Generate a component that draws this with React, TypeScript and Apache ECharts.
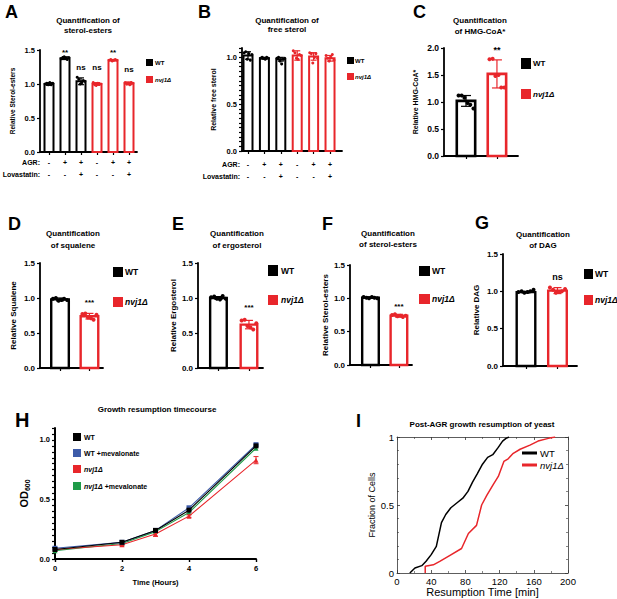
import React, { useEffect, useRef } from 'react';
import * as echarts from 'echarts';

const FONT = '"Liberation Sans", Arial, Helvetica, sans-serif';
const BLK = '#000000';
const RED = '#e8262b';
const BLUE = '#3d5ba9';
const GREEN = '#1f9b48';

// ---------- Panel A: sterol-esters ----------
const aAgr = ['-', '+', '+', '-', '+', '+'];
const aLova = ['-', '-', '+', '-', '-', '+'];
const aMeans = [1.0, 1.38, 1.04, 1.0, 1.35, 1.01];
const aErrs = [0.02, 0.02, 0.05, 0.02, 0.01, 0.02];
const aDots = [
  [1.0, 1.01, 0.99, 1.02, 0.99, 1.01],
  [1.37, 1.39, 1.4, 1.38, 1.36, 1.39],
  [1.1, 1.07, 1.0, 1.02, 1.05, 1.04],
  [1.02, 0.99, 0.98, 1.01, 1.0, 1.0],
  [1.35, 1.36, 1.34, 1.35, 1.36, 1.35],
  [1.02, 1.0, 1.01, 0.99, 1.02, 1.01],
];
const aSig = ['', '**', 'ns', 'ns', '**', 'ns'];
const aSigY = [0, 1.47, 1.25, 1.25, 1.47, 1.21];

// ---------- Panel B: free sterol ----------
const bAgr = ['-', '+', '+', '-', '+', '+'];
const bLova = ['-', '-', '+', '-', '-', '+'];
const bMeans = [1.02, 0.99, 0.98, 1.02, 1.01, 0.99];
const bErrs = [0.04, 0.01, 0.02, 0.05, 0.04, 0.03];
const bDots = [
  [1.05, 1.06, 0.98, 1.04, 0.97, 1.03],
  [0.99, 1.0, 0.99, 0.98, 1.0, 0.99],
  [0.99, 1.0, 0.96, 0.93, 0.98, 0.99],
  [1.07, 1.05, 0.99, 0.98, 1.03, 1.02],
  [1.05, 1.04, 0.94, 1.0, 1.04, 0.99],
  [1.02, 0.99, 0.96, 1.0, 1.03, 0.97],
];
const bSig = ['', 'ns', 'ns', 'ns', 'ns', 'ns'];
const bSigY = [0, 1.11, 1.11, 1.17, 1.17, 1.11];

// ---------- Panel C: HMG-CoA ----------
const cMeans = [1.02, 1.52];
const cErrs = [0.1, 0.26];
const cDots = [
  [1.12, 1.12, 1.08, 0.98, 0.95, 0.88],
  [1.79, 1.8, 1.48, 1.5, 1.27, 1.27],
];
const cSig = ['', '**'];
const cSigY = [0, 1.96];

// ---------- Panel D: squalene ----------
const dMeans = [0.98, 0.74];
const dErrs = [0.02, 0.04];
const dDots = [
  [0.99, 1.0, 0.96, 0.97, 0.99, 0.97],
  [0.77, 0.78, 0.72, 0.71, 0.69, 0.76],
];
const dSig = ['', '***'];
const dSigY = [0, 0.94];

// ---------- Panel E: ergosterol ----------
const eMeans = [1.0, 0.62];
const eErrs = [0.02, 0.06];
const eDots = [
  [1.01, 1.02, 0.99, 0.98, 1.03, 0.99],
  [0.68, 0.69, 0.6, 0.58, 0.55, 0.64],
];
const eSig = ['', '***'];
const eSigY = [0, 0.86];

// ---------- Panel F: sterol-esters ----------
const fMeans = [1.01, 0.74];
const fErrs = [0.01, 0.02];
const fDots = [
  [1.02, 1.01, 1.0, 1.02, 1.01, 1.0],
  [0.75, 0.76, 0.73, 0.74, 0.72, 0.74],
];
const fSig = ['', '***'];
const fSigY = [0, 0.885];

// ---------- Panel G: DAG ----------
const gMeans = [0.99, 1.01];
const gErrs = [0.01, 0.04];
const gDots = [
  [0.99, 1.0, 0.98, 0.99, 1.0, 1.02],
  [1.05, 1.02, 0.98, 0.99, 1.0, 1.03],
];
const gSig = ['', 'ns'];
const gSigY = [0, 1.19];

// ---------- Panel H: growth timecourse ----------
const hTime = [0, 2, 3, 4, 6];
const hWT = [0.08, 0.14, 0.24, 0.41, 0.95];
const hWTMev = [0.09, 0.14, 0.24, 0.43, 0.96];
const hNvj = [0.08, 0.12, 0.21, 0.36, 0.83];
const hNvjErr = [0.005, 0.01, 0.02, 0.01, 0.03];
const hNvjMev = [0.07, 0.13, 0.23, 0.39, 0.93];

// ---------- Panel I: resumption CDF ----------
const iWT: [number, number][] = [
  [15, 0], [21, 0.037], [29, 0.054], [34, 0.086], [40, 0.135], [46, 0.196],
  [52, 0.37], [57, 0.43], [63, 0.48], [71, 0.52], [77, 0.55], [83, 0.6],
  [88.5, 0.67], [94, 0.73], [100, 0.8], [106, 0.85], [112, 0.87], [118, 0.92],
  [123.5, 0.97], [127.5, 0.99], [131, 1.0],
];
const iNvj: [number, number][] = [
  [33, 0], [33, 0.05], [42.5, 0.06], [50, 0.085], [62, 0.13], [75.5, 0.18],
  [83.5, 0.29], [93, 0.35], [99, 0.5], [105, 0.57], [112.5, 0.65], [118.5, 0.71],
  [125, 0.82], [130, 0.84], [136, 0.88], [144, 0.91], [155.5, 0.94], [165, 0.97],
  [177, 0.99], [185, 1.0],
];

const DOT_OFF = [-0.24, -0.14, -0.05, 0.05, 0.14, 0.24];

interface BarPanel {
  left: number; top: number; width: number; height: number;
  xMin: number; xMax: number; yMax: number; yInterval: number;
  means: number[]; errs: number[]; dots: number[][]; colors: string[];
  sig: string[]; sigY: number[]; sigSize: number;
  yName: string; yNameSize: number; yNameGap: number; tickSize: number;
  barW: number; barLW: number; dotSize: number; cap: number;
  xLabels?: string[]; xLabelMargin?: number;
}

function addBarPanel(p: BarPanel, grid: any[], xAxis: any[], yAxis: any[], series: any[]) {
  const g = grid.length;
  grid.push({ left: p.left, top: p.top, width: p.width, height: p.height });
  const idx = p.means.map((_, i) => i);
  const xi = xAxis.length;
  xAxis.push({
    type: 'value', gridIndex: g, min: p.xMin, max: p.xMax,
    axisLine: { show: true, onZero: false, lineStyle: { color: '#000', width: 1.8 } },
    axisTick: { show: true, customValues: idx, length: 3, lineStyle: { color: '#000', width: 1.2 } },
    axisLabel: p.xLabels
      ? {
          show: true, customValues: idx,
          formatter: (v: number) => p.xLabels![Math.round(v)] ?? '',
          fontSize: 7, fontWeight: 'bold', fontFamily: FONT, color: '#000', lineHeight: 12,
          margin: p.xLabelMargin,
        }
      : { show: false },
    splitLine: { show: false },
  });
  const yi = yAxis.length;
  yAxis.push({
    type: 'value', gridIndex: g, min: 0, max: p.yMax, interval: p.yInterval,
    axisLine: { show: true, onZero: false, lineStyle: { color: '#000', width: 1.8 } },
    axisTick: { show: true, length: 3, lineStyle: { color: '#000', width: 1.2 } },
    axisLabel: {
      fontSize: p.tickSize, fontWeight: 'bold', fontFamily: FONT, color: '#000', margin: 5,
      formatter: (v: number) => (Math.abs(v * 2 - Math.round(v * 2)) < 1e-6 ? v.toFixed(1) : ''),
    },
    splitLine: { show: false },
    name: p.yName, nameLocation: 'middle', nameGap: p.yNameGap,
    nameTextStyle: { fontSize: p.yNameSize, fontWeight: 'bold', fontFamily: FONT, color: '#000' },
  });
  series.push({
    type: 'custom', xAxisIndex: xi, yAxisIndex: yi, z: 2, silent: true, clip: false,
    data: idx.map((i) => [i, p.means[i], p.errs[i]]),
    renderItem: (params: any, api: any) => {
      const i = params.dataIndex;
      const x = api.value(0), m = api.value(1), e = api.value(2);
      const top = api.coord([x, m]);
      const base = api.coord([x, 0]);
      const lo = api.coord([x, m - e]);
      const hi = api.coord([x, m + e]);
      const col = p.colors[i];
      const w = p.barW - p.barLW;
      const el = { stroke: col, lineWidth: 1.2 };
      return {
        type: 'group',
        children: [
          { type: 'rect', shape: { x: top[0] - w / 2, y: top[1], width: w, height: base[1] - top[1] }, style: { fill: '#fff', stroke: col, lineWidth: p.barLW } },
          { type: 'line', shape: { x1: lo[0], y1: lo[1], x2: hi[0], y2: hi[1] }, style: el },
          { type: 'line', shape: { x1: hi[0] - p.cap, y1: hi[1], x2: hi[0] + p.cap, y2: hi[1] }, style: el },
          { type: 'line', shape: { x1: lo[0] - p.cap, y1: lo[1], x2: lo[0] + p.cap, y2: lo[1] }, style: el },
        ],
      };
    },
  });
  series.push({
    type: 'scatter', xAxisIndex: xi, yAxisIndex: yi, z: 4, silent: true,
    symbolSize: p.dotSize,
    data: p.dots.flatMap((arr, i) => arr.map((v, k) => ({ value: [i + DOT_OFF[k], v], itemStyle: { color: p.colors[i], opacity: 1 } }))),
  });
  series.push({
    type: 'scatter', xAxisIndex: xi, yAxisIndex: yi, z: 5, silent: true,
    symbolSize: 0,
    data: p.sig.map((s, i) => (s ? { name: s, value: [i, p.sigY[i]] } : null)).filter(Boolean),
    label: { show: true, position: 'inside', formatter: '{b}', color: '#000', opacity: 1, fontSize: p.sigSize, fontWeight: 'bold', fontFamily: FONT },
    itemStyle: { opacity: 1 },
  });
}

const txt = (text: string, x: number, y: number, size: number, o: any = {}) => ({
  type: 'text', x, y, silent: true, z: 10,
  style: {
    text, fill: '#000', fontSize: size, fontFamily: FONT,
    fontWeight: o.weight ?? 'bold', fontStyle: o.italic ? 'italic' : 'normal',
    align: o.align ?? 'left', verticalAlign: 'middle',
    textAlign: o.align ?? 'left', textVerticalAlign: 'middle',
    rich: o.rich,
  },
});
const box = (x: number, y: number, w: number, h: number, fill: string) => ({
  type: 'rect', silent: true, z: 10, shape: { x, y, width: w, height: h }, style: { fill },
});
const seg = (x1: number, y1: number, x2: number, y2: number, stroke: string, lw: number) => ({
  type: 'line', silent: true, z: 10, shape: { x1, y1, x2, y2 }, style: { stroke, lineWidth: lw },
});

function buildOption() {
  const grid: any[] = [];
  const xAxis: any[] = [];
  const yAxis: any[] = [];
  const series: any[] = [];
  const six = [BLK, BLK, BLK, RED, RED, RED];
  const two = [BLK, RED];

  addBarPanel({
    left: 40, top: 50, width: 97, height: 102, xMin: -0.5625, xMax: 5.5, yMax: 1.5, yInterval: 0.5,
    means: aMeans, errs: aErrs, dots: aDots, colors: six, sig: aSig, sigY: aSigY, sigSize: 8,
    yName: 'Relative Sterol-esters', yNameSize: 6.5, yNameGap: 24, tickSize: 7.5,
    barW: 11, barLW: 2, dotSize: 3, cap: 3,
    xLabels: aAgr.map((a, i) => `${a}\n${aLova[i]}`), xLabelMargin: 4,
  }, grid, xAxis, yAxis, series);

  addBarPanel({
    left: 242, top: 48, width: 100, height: 103, xMin: -0.366, xMax: 5.73, yMax: 1.1, yInterval: 0.05,
    means: bMeans, errs: bErrs, dots: bDots, colors: six, sig: bSig, sigY: bSigY, sigSize: 8,
    yName: 'Relative free sterol', yNameSize: 7, yNameGap: 25, tickSize: 7.5,
    barW: 11, barLW: 2, dotSize: 3, cap: 3,
    xLabels: bAgr.map((a, i) => `${a}\n${bLova[i]}`), xLabelMargin: 7,
  }, grid, xAxis, yAxis, series);

  addBarPanel({
    left: 444, top: 48, width: 74, height: 108, xMin: -0.71, xMax: 1.68, yMax: 2.0, yInterval: 0.5,
    means: cMeans, errs: cErrs, dots: cDots, colors: two, sig: cSig, sigY: cSigY, sigSize: 9,
    yName: 'Relative HMG-CoA*', yNameSize: 7, yNameGap: 25, tickSize: 8.5,
    barW: 21, barLW: 2.6, dotSize: 4, cap: 5,
  }, grid, xAxis, yAxis, series);

  addBarPanel({
    left: 40, top: 263, width: 63, height: 105, xMin: -0.68, xMax: 1.46, yMax: 1.5, yInterval: 0.5,
    means: dMeans, errs: dErrs, dots: dDots, colors: two, sig: dSig, sigY: dSigY, sigSize: 8,
    yName: 'Relative Squalene', yNameSize: 8, yNameGap: 23, tickSize: 8,
    barW: 20, barLW: 2.4, dotSize: 4, cap: 4,
  }, grid, xAxis, yAxis, series);

  addBarPanel({
    left: 198, top: 263, width: 65, height: 105, xMin: -0.67, xMax: 1.46, yMax: 1.5, yInterval: 0.5,
    means: eMeans, errs: eErrs, dots: eDots, colors: two, sig: eSig, sigY: eSigY, sigSize: 8,
    yName: 'Relative Ergosterol', yNameSize: 8, yNameGap: 14, tickSize: 8,
    barW: 19, barLW: 2.4, dotSize: 4, cap: 4,
  }, grid, xAxis, yAxis, series);

  addBarPanel({
    left: 350, top: 265, width: 62, height: 100, xMin: -0.72, xMax: 1.46, yMax: 1.5, yInterval: 0.5,
    means: fMeans, errs: fErrs, dots: fDots, colors: two, sig: fSig, sigY: fSigY, sigSize: 8,
    yName: 'Relative Sterol-esters', yNameSize: 8, yNameGap: 21, tickSize: 8,
    barW: 19, barLW: 2.4, dotSize: 4, cap: 4,
  }, grid, xAxis, yAxis, series);

  addBarPanel({
    left: 503, top: 254, width: 74, height: 112, xMin: -0.73, xMax: 1.62, yMax: 1.5, yInterval: 0.5,
    means: gMeans, errs: gErrs, dots: gDots, colors: two, sig: gSig, sigY: gSigY, sigSize: 9,
    yName: 'Relative DAG', yNameSize: 8, yNameGap: 23, tickSize: 8,
    barW: 21, barLW: 2.4, dotSize: 4, cap: 4,
  }, grid, xAxis, yAxis, series);

  // ---- Panel H ----
  const hg = grid.length;
  grid.push({ left: 55, top: 428, width: 201, height: 131 });
  const hxi = xAxis.length;
  xAxis.push({
    type: 'value', gridIndex: hg, min: 0, max: 6, interval: 2,
    axisLine: { show: true, onZero: false, lineStyle: { color: '#000', width: 2 } },
    axisTick: { show: true, length: 3, lineStyle: { color: '#000', width: 1.4 } },
    axisLabel: { fontSize: 7.5, fontWeight: 'bold', fontFamily: FONT, color: '#000', margin: 5 },
    splitLine: { show: false },
    name: 'Time (Hours)', nameLocation: 'middle', nameGap: 19,
    nameTextStyle: { fontSize: 7.5, fontWeight: 'bold', fontFamily: FONT, color: '#000' },
  });
  const hyi = yAxis.length;
  yAxis.push({
    type: 'value', gridIndex: hg, min: 0, max: 1.1, interval: 0.05,
    axisLine: { show: true, onZero: false, lineStyle: { color: '#000', width: 2 } },
    axisTick: { show: true, length: 3, lineStyle: { color: '#000', width: 1.2 } },
    axisLabel: {
      fontSize: 7.5, fontWeight: 'bold', fontFamily: FONT, color: '#000', margin: 5,
      formatter: (v: number) => (Math.abs(v * 2 - Math.round(v * 2)) < 1e-6 ? v.toFixed(1) : ''),
    },
    splitLine: { show: false },
    name: '{a|OD}{b|600}', nameLocation: 'middle', nameGap: 24,
    nameTextStyle: {
      rich: {
        a: { fontSize: 11, fontWeight: 'bold', fontFamily: FONT, color: '#000', lineHeight: 14 },
        b: { fontSize: 7, fontWeight: 'bold', fontFamily: FONT, color: '#000', lineHeight: 14, verticalAlign: 'bottom' },
      },
    },
  });
  const zip = (xs: number[], ys: number[]) => xs.map((x, i) => [x, ys[i]]);
  const hLine = (data: number[][], color: string, symbol: string, z: number) => ({
    type: 'line', xAxisIndex: hxi, yAxisIndex: hyi, data, symbol, symbolSize: 5, z,
    lineStyle: { color, width: 1.1 }, itemStyle: { color }, silent: true,
  });
  series.push(hLine(zip(hTime, hNvjMev), GREEN, 'triangle', 3));
  series.push(hLine(zip(hTime, hNvj), RED, 'triangle', 4));
  series.push({
    type: 'custom', xAxisIndex: hxi, yAxisIndex: hyi, z: 4, silent: true,
    data: hTime.map((t, i) => [t, hNvj[i], hNvjErr[i]]),
    renderItem: (_p: any, api: any) => {
      const x = api.value(0), m = api.value(1), e = api.value(2);
      const lo = api.coord([x, m - e]);
      const hi = api.coord([x, m + e]);
      const st = { stroke: RED, lineWidth: 1 };
      return {
        type: 'group',
        children: [
          { type: 'line', shape: { x1: lo[0], y1: lo[1], x2: hi[0], y2: hi[1] }, style: st },
          { type: 'line', shape: { x1: lo[0] - 2.5, y1: lo[1], x2: lo[0] + 2.5, y2: lo[1] }, style: st },
          { type: 'line', shape: { x1: hi[0] - 2.5, y1: hi[1], x2: hi[0] + 2.5, y2: hi[1] }, style: st },
        ],
      };
    },
  });
  series.push(hLine(zip(hTime, hWTMev), BLUE, 'rect', 5));
  series.push(hLine(zip(hTime, hWT), BLK, 'rect', 6));

  // ---- Panel I ----
  const ig = grid.length;
  grid.push({ left: 397, top: 437, width: 171, height: 136 });
  const axC = '#333';
  const ixi = xAxis.length;
  xAxis.push({
    type: 'value', gridIndex: ig, min: 0, max: 200, interval: 40,
    axisLine: { show: true, onZero: false, lineStyle: { color: axC, width: 0.8 } },
    axisTick: { show: true, inside: true, length: 3, lineStyle: { color: axC, width: 0.8 } },
    minorTick: { show: true, splitNumber: 2, length: 2, lineStyle: { color: axC, width: 0.6 } },
    axisLabel: { fontSize: 9.5, fontFamily: FONT, color: '#000', margin: 3 },
    splitLine: { show: false },
    name: 'Resumption Time [min]', nameLocation: 'middle', nameGap: 13,
    nameTextStyle: { fontSize: 11, fontFamily: FONT, color: '#000' },
  });
  xAxis.push({
    type: 'value', gridIndex: ig, position: 'top', min: 0, max: 200, interval: 40,
    axisLine: { show: true, onZero: false, lineStyle: { color: axC, width: 0.8 } },
    axisTick: { show: true, inside: true, length: 3, lineStyle: { color: axC, width: 0.8 } },
    minorTick: { show: true, splitNumber: 2, length: 2, lineStyle: { color: axC, width: 0.6 } },
    axisLabel: { show: false }, splitLine: { show: false },
  });
  const iyi = yAxis.length;
  yAxis.push({
    type: 'value', gridIndex: ig, min: 0, max: 1, interval: 0.5,
    axisLine: { show: true, onZero: false, lineStyle: { color: axC, width: 0.8 } },
    axisTick: { show: true, inside: true, length: 3, lineStyle: { color: axC, width: 0.8 } },
    minorTick: { show: true, splitNumber: 5, length: 2, lineStyle: { color: axC, width: 0.6 } },
    axisLabel: { fontSize: 9.5, fontFamily: FONT, color: '#000', margin: 3 },
    splitLine: { show: false },
    name: 'Fraction of Cells', nameLocation: 'middle', nameGap: 15,
    nameTextStyle: { fontSize: 9, fontFamily: FONT, color: '#000' },
  });
  yAxis.push({
    type: 'value', gridIndex: ig, position: 'right', min: 0, max: 1, interval: 0.5,
    axisLine: { show: true, onZero: false, lineStyle: { color: axC, width: 0.8 } },
    axisTick: { show: true, inside: true, length: 3, lineStyle: { color: axC, width: 0.8 } },
    minorTick: { show: true, splitNumber: 5, length: 2, lineStyle: { color: axC, width: 0.6 } },
    axisLabel: { show: false }, splitLine: { show: false },
  });
  series.push({
    type: 'line', xAxisIndex: ixi, yAxisIndex: iyi, data: iWT, symbol: 'none', z: 5, silent: true,
    lineStyle: { color: BLK, width: 1.5 },
  });
  series.push({
    type: 'line', xAxisIndex: ixi, yAxisIndex: iyi, data: iNvj, symbol: 'none', z: 5, silent: true,
    lineStyle: { color: RED, width: 1.5 },
  });

  const graphic: any[] = [
    // panel letters
    txt('A', 5, 11.5, 18), txt('B', 198, 11.5, 18), txt('C', 413, 11.5, 18),
    txt('D', 8, 223.5, 18), txt('E', 172, 223.5, 18), txt('F', 322, 224, 18),
    txt('G', 475, 223, 18), txt('H', 15, 420, 20), txt('I', 356, 421, 18),
    // titles
    txt('Quantification of', 88, 20, 8, { align: 'center' }),
    txt('sterol-esters', 88, 30, 8, { align: 'center' }),
    txt('Quantification of', 287, 20, 8, { align: 'center' }),
    txt('free sterol', 287, 29.5, 8, { align: 'center' }),
    txt('Quantification', 480, 20, 8, { align: 'center' }),
    txt('of HMG-CoA*', 480, 31, 8, { align: 'center' }),
    txt('Quantification', 73, 233, 8, { align: 'center' }),
    txt('of squalene', 73, 245, 8, { align: 'center' }),
    txt('Quantification', 237, 233, 8, { align: 'center' }),
    txt('of ergosterol', 237, 245, 8, { align: 'center' }),
    txt('Quantification', 388, 233, 8, { align: 'center' }),
    txt('of sterol-esters', 388, 244, 8, { align: 'center' }),
    txt('Quantification', 543, 234, 8, { align: 'center' }),
    txt('of DAG', 543, 245, 8, { align: 'center' }),
    txt('Growth resumption timecourse', 157, 409, 8, { align: 'center' }),
    txt('Post-AGR growth resumption of yeast', 482, 424, 8, { align: 'center' }),
    // treatment row headings
    txt('AGR:', 40, 162, 7, { align: 'right' }),
    txt('Lovastatin:', 40, 174, 7, { align: 'right' }),
    txt('AGR:', 240, 164, 7, { align: 'right' }),
    txt('Lovastatin:', 240, 176, 7, { align: 'right' }),
    // legends A
    box(146, 59, 7, 7, BLK), txt('WT', 155, 62.5, 6),
    box(146, 76, 7, 7, RED), txt('nvj1Δ', 155, 79.5, 6, { italic: true }),
    // legends B
    box(347, 57, 7, 7, BLK), txt('WT', 355, 60.5, 6),
    box(347, 73, 7, 7, RED), txt('nvj1Δ', 355, 76.5, 6, { italic: true }),
    // legends C
    box(521, 58, 10, 11, BLK), txt('WT', 533, 63.5, 8),
    box(521, 89, 10, 10, RED), txt('nvj1Δ', 533, 94, 8, { italic: true }),
    // legends D
    box(113, 267, 10, 10, BLK), txt('WT', 125, 272, 8.5),
    box(113, 297, 10, 10, RED), txt('nvj1Δ', 125, 302, 8.5, { italic: true }),
    // legends E
    box(268, 265, 10, 11, BLK), txt('WT', 281, 270.5, 8.5),
    box(268, 295, 10, 10, RED), txt('nvj1Δ', 281, 300, 8.5, { italic: true }),
    // legends F
    box(419, 266, 11, 10, BLK), txt('WT', 432, 271, 8.5),
    box(419, 294, 11, 10, RED), txt('nvj1Δ', 432, 299, 8.5, { italic: true }),
    // legends G
    box(584, 269, 9, 10, BLK), txt('WT', 595, 274, 8.5),
    box(584, 295, 9, 10, RED), txt('nvj1Δ', 595, 300, 8.5, { italic: true }),
    // legend H
    box(73, 433, 8, 8, BLK), txt('WT', 84, 437, 7),
    box(73, 449, 8, 8, BLUE), txt('WT +mevalonate', 84, 453, 7),
    box(73, 465, 8, 8, RED), txt('nvj1Δ', 84, 469, 7, { italic: true }),
    box(73, 482, 8, 8, GREEN),
    txt('{i|nvj1Δ} {n|+mevalonate}', 84, 486, 7, {
      rich: {
        i: { fontSize: 7, fontWeight: 'bold', fontStyle: 'italic', fontFamily: FONT, fill: '#000' },
        n: { fontSize: 7, fontWeight: 'bold', fontFamily: FONT, fill: '#000' },
      },
    }),
    // legend I
    seg(522, 453, 537, 453, BLK, 3), txt('WT', 540, 453, 9.5, { weight: 'normal' }),
    seg(522, 465, 537, 465, RED, 3), txt('nvj1Δ', 540, 465, 9.5, { weight: 'normal', italic: true }),
  ];

  return {
    animation: false,
    backgroundColor: '#ffffff',
    textStyle: { fontFamily: FONT },
    grid, xAxis, yAxis, series,
    graphic: { elements: graphic },
  };
}

export default function App() {
  const ref = useRef<HTMLDivElement>(null);
  useEffect(() => {
    const chart = echarts.init(ref.current!, null, { renderer: 'svg' });
    chart.setOption(buildOption() as any);
    return () => chart.dispose();
  }, []);
  return (
    <div
      ref={ref}
      style={{ position: 'absolute', left: 0, top: 0, width: 617, height: 599, background: '#fff' }}
    />
  );
}
